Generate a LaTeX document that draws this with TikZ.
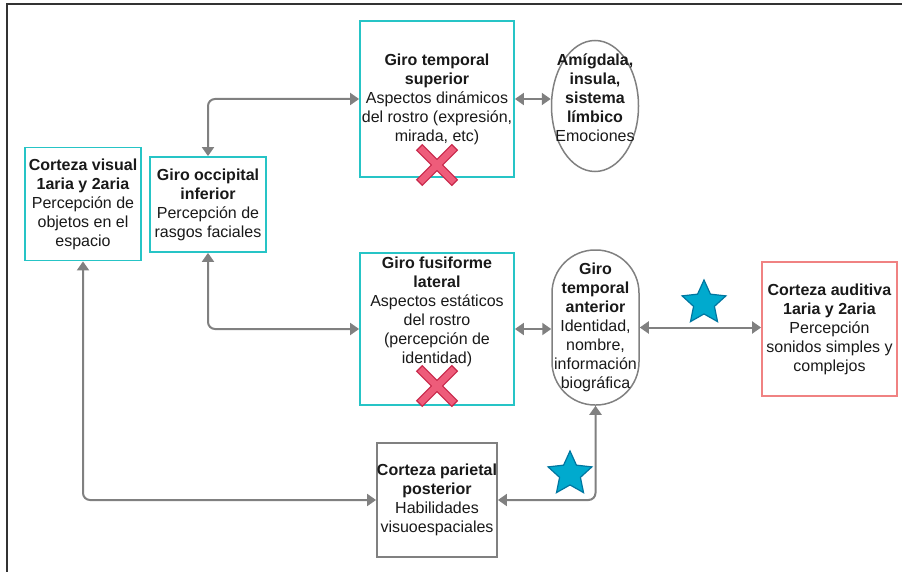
\documentclass[tikz,border=0pt]{standalone}
\usepackage{fontspec}
\setmainfont{Liberation Sans}
\usepackage[]{xcolor}
\usepackage{tikz}
\usetikzlibrary{arrows.meta,shapes.geometric}
\definecolor{turquesa}{RGB}{38,196,198}
\definecolor{gris}{RGB}{128,128,128}
\definecolor{rosa}{RGB}{240,130,130}
\definecolor{azul}{RGB}{0,170,206}
\definecolor{azuloscuro}{RGB}{0,118,160}
\definecolor{rojo}{RGB}{238,92,122}
\definecolor{rojooscuro}{RGB}{200,40,75}

\begin{document}
\begin{tikzpicture}[x=1pt,y=-1pt,
    txt/.style={font=\fontsize{16}{19}\selectfont, align=center, text=black!90, inner sep=0pt},
    caja/.style={txt, draw=turquesa, line width=1.8pt},
    link/.style={draw=gris, line width=2pt, rounded corners=7pt,
        {Triangle[length=9pt,width=12pt]}-{Triangle[length=9pt,width=12pt]}},
    estrella/.style={star, star points=5, star point ratio=2.1, minimum size=46pt,
        inner sep=0pt, fill=azul, draw=azuloscuro, line width=1.2pt},
    cruz/.pic={
        \draw[rojooscuro, line width=9pt] (-18,-18) -- (18,18) (-18,18) -- (18,-18);
        \draw[rojo, line width=6.5pt] (-17,-17) -- (17,17) (-17,17) -- (17,-17);
    }]
    \useasboundingbox (0,0) rectangle (902,572);
    \draw[line width=2pt, black!80] (7,572) -- (7,4) -- (902,4);

    \node[caja, minimum width=116pt, minimum height=113pt] (cv) at (83,204)
        {\textbf{Corteza visual}\\\textbf{1aria y 2aria}\\Percepción de\\objetos en el\\espacio};
    \node[caja, minimum width=116pt, minimum height=95pt] (goi) at (208,204.5)
        {\textbf{Giro occipital}\\\textbf{inferior}\\Percepción de\\rasgos faciales};
    \node[caja, minimum width=154pt, minimum height=156pt] (gts) at (437,99)
        {\textbf{Giro temporal}\\\textbf{superior}\\Aspectos dinámicos\\del rostro (expresión,\\mirada, etc)};
    \node[txt, draw=gris, line width=1.5pt, ellipse, minimum width=87pt, minimum height=131pt] (amig) at (595,106) {};
    \node[txt] at ([yshift=8pt]amig.center)
        {\textbf{Amígdala,}\\\textbf{insula,}\\\textbf{sistema}\\\textbf{límbico}\\Emociones};
    \node[caja, minimum width=154pt, minimum height=152pt] (gfl) at (437,329) {};
    \node[txt] at ([yshift=17pt]gfl.center)
        {\textbf{Giro fusiforme}\\\textbf{lateral}\\Aspectos estáticos\\del rostro\\(percepción de\\identidad)};
    \node[txt, draw=gris, line width=1.5pt, rounded corners=43pt, minimum width=87pt, minimum height=155pt] (gta) at (595.5,327.5)
        {\textbf{Giro}\\\textbf{temporal}\\\textbf{anterior}\\Identidad,\\nombre,\\información\\biográfica};
    \node[txt, draw=rosa, line width=1.8pt, minimum width=135pt, minimum height=134pt] (ca) at (829.5,329)
        {\textbf{Corteza auditiva}\\\textbf{1aria y 2aria}\\Percepción\\sonidos simples y\\complejos};
    \node[txt, draw=gris, line width=1.8pt, minimum width=116pt, minimum height=114pt] (cpp) at (437,500)
        {\textbf{Corteza parietal}\\\textbf{posterior}\\Habilidades\\visuoespaciales};

    \draw[link] (goi.north) |- (gts.west);
    \draw[link] (goi.south) |- (gfl.west);
    \draw[link] (cv.south) |- (cpp.west);
    \draw[link] (gts.east) -- (gts.east -| amig.west);
    \draw[link] (gfl.east) -- (gfl.east -| gta.west);
    \draw[link] (gta.east) -- (gta.east -| ca.west);
    \draw[link] (gta.south) |- (cpp.east);

    \node[estrella] (e1) at (704,303) {};
    \node[estrella] (e2) at (570,474) {};
    \pic at (437,165) {cruz};
    \pic at (437,386) {cruz};
\end{tikzpicture}
\end{document}
